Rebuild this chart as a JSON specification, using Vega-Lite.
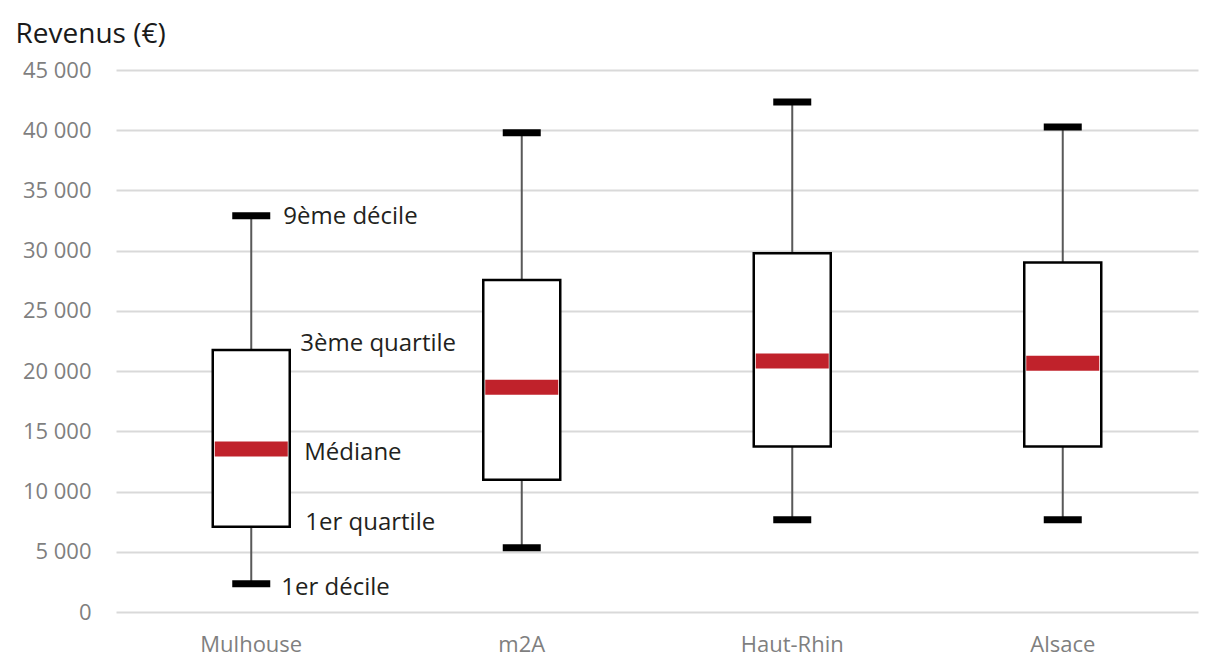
{
  "$schema": "https://vega.github.io/schema/vega-lite/v6.json",
  "width": 1082,
  "height": 542,
  "autosize": "none",
  "padding": {"left": 116, "top": 70, "right": 19, "bottom": 47},
  "background": "white",
  "config": {"view": {"stroke": null}, "font": "Open Sans"},
  "data": {"values": [
    {"zone": "Mulhouse", "d1": 2350, "q1": 7080, "med": 13530, "q3": 21760, "d9": 32890},
    {"zone": "m2A", "d1": 5340, "q1": 10980, "med": 18670, "q3": 27570, "d9": 39800},
    {"zone": "Haut-Rhin", "d1": 7660, "q1": 13740, "med": 20830, "q3": 29790, "d9": 42350},
    {"zone": "Alsace", "d1": 7660, "q1": 13740, "med": 20660, "q3": 29010, "d9": 40270}
  ]},
  "encoding": {
    "x": {"field": "zone", "type": "nominal", "sort": null,
      "scale": {"paddingInner": 0, "paddingOuter": 0},
      "axis": {"title": null, "labelAngle": 0, "labelColor": "#7f7f7f", "labelFontSize": 22, "labelPadding": 22,
               "ticks": false, "domain": false, "labelFont": "Open Sans"}}
  },
  "layer": [
    {
      "mark": {"type": "rule", "color": "#595959", "strokeWidth": 2},
      "encoding": {
        "y": {"field": "d1", "type": "quantitative", "scale": {"domain": [0, 45000], "nice": false},
          "axis": {"values": [0, 5000, 10000, 15000, 20000, 25000, 30000, 35000, 40000, 45000],
                   "labelExpr": "replace(format(datum.value, ','), ',', ' ')",
                   "grid": true, "gridColor": "#d9d9d9", "gridWidth": 2, "ticks": false, "domain": false,
                   "labelColor": "#7f7f7f", "labelFontSize": 22, "labelPadding": 25, "labelFont": "Open Sans",
                   "title": "Revenus (€)", "titleAngle": 0, "titleAlign": "left", "titleBaseline": "alphabetic",
                   "titleX": -101, "titleY": -28, "titleFontSize": 28, "titleFontWeight": "normal", "titleColor": "#1a1a1a", "titleFont": "Open Sans"}},
        "y2": {"field": "d9"}
      }
    },
    {
      "mark": {"type": "bar", "fill": "white", "stroke": "black", "strokeWidth": 2.5, "width": 77},
      "encoding": {
        "y": {"field": "q1", "type": "quantitative"},
        "y2": {"field": "q3"}
      }
    },
    {
      "mark": {"type": "tick", "color": "#c0222b", "thickness": 15, "size": 73, "opacity": 1},
      "encoding": {"y": {"field": "med", "type": "quantitative"}}
    },
    {
      "mark": {"type": "tick", "color": "black", "thickness": 7, "size": 38, "opacity": 1},
      "encoding": {"y": {"field": "d1", "type": "quantitative"}}
    },
    {
      "mark": {"type": "tick", "color": "black", "thickness": 7, "size": 38, "opacity": 1},
      "encoding": {"y": {"field": "d9", "type": "quantitative"}}
    },
    {
      "transform": [{"filter": "datum.zone == 'Mulhouse'"}],
      "mark": {"type": "text", "align": "left", "baseline": "middle", "dx": 32, "dy": 1, "fontSize": 24, "color": "#231f20", "font": "Open Sans"},
      "encoding": {"y": {"field": "d9", "type": "quantitative"}, "text": {"value": "9ème décile"}}
    },
    {
      "transform": [{"filter": "datum.zone == 'Mulhouse'"}],
      "mark": {"type": "text", "align": "left", "baseline": "middle", "dx": 49, "dy": -6, "fontSize": 24, "color": "#231f20", "font": "Open Sans"},
      "encoding": {"y": {"field": "q3", "type": "quantitative"}, "text": {"value": "3ème quartile"}}
    },
    {
      "transform": [{"filter": "datum.zone == 'Mulhouse'"}],
      "mark": {"type": "text", "align": "left", "baseline": "middle", "dx": 53, "dy": 4, "fontSize": 24, "color": "#231f20", "font": "Open Sans"},
      "encoding": {"y": {"field": "med", "type": "quantitative"}, "text": {"value": "Médiane"}}
    },
    {
      "transform": [{"filter": "datum.zone == 'Mulhouse'"}],
      "mark": {"type": "text", "align": "left", "baseline": "middle", "dx": 54, "dy": -4, "fontSize": 24, "color": "#231f20", "font": "Open Sans"},
      "encoding": {"y": {"field": "q1", "type": "quantitative"}, "text": {"value": "1er quartile"}}
    },
    {
      "transform": [{"filter": "datum.zone == 'Mulhouse'"}],
      "mark": {"type": "text", "align": "left", "baseline": "middle", "dx": 30, "dy": 4, "fontSize": 24, "color": "#231f20", "font": "Open Sans"},
      "encoding": {"y": {"field": "d1", "type": "quantitative"}, "text": {"value": "1er décile"}}
    }
  ]
}
